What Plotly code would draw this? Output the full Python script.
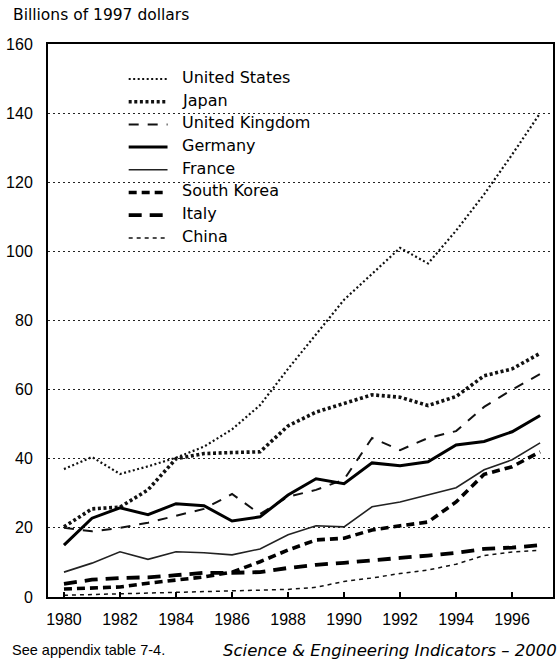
import plotly.graph_objects as go

# R&D spending, billions of constant 1997 dollars
years = list(range(1980, 1998))

united_states = [37.0, 40.5, 35.6, 37.8, 40.3, 43.5, 48.5, 55.5, 66.0, 76.0, 86.0, 93.5, 101.0, 96.5, 106.0, 116.5, 128.0, 140.0]
japan = [20.3, 25.5, 26.0, 31.0, 40.0, 41.5, 41.8, 42.0, 49.5, 53.5, 56.0, 58.5, 57.8, 55.4, 58.0, 64.0, 66.0, 70.5]
united_kingdom = [20.0, 19.0, 20.0, 21.5, 23.5, 25.5, 29.8, 24.0, 29.0, 31.0, 34.0, 46.0, 42.5, 46.0, 48.0, 55.0, 60.0, 64.5]
germany = [15.0, 22.8, 25.8, 23.8, 27.0, 26.4, 22.0, 23.2, 29.5, 34.2, 32.8, 38.8, 38.0, 39.1, 44.0, 45.0, 47.8, 52.5]
france = [7.2, 9.8, 13.1, 10.9, 13.1, 12.8, 12.2, 13.9, 18.0, 20.6, 20.3, 26.1, 27.5, 29.6, 31.6, 36.8, 39.7, 44.6]
south_korea = [2.3, 2.6, 2.9, 4.0, 5.0, 5.8, 7.2, 10.2, 13.6, 16.5, 17.0, 19.4, 20.6, 21.7, 27.5, 35.5, 37.7, 42.0]
italy = [3.8, 5.0, 5.5, 5.7, 6.3, 7.0, 7.0, 7.2, 8.4, 9.3, 9.9, 10.5, 11.3, 12.0, 12.8, 13.9, 14.3, 15.0]
china = [0.5, 0.7, 0.8, 1.0, 1.2, 1.4, 1.6, 1.8, 2.2, 2.8, 4.5, 5.5, 6.8, 7.8, 9.5, 12.0, 13.0, 13.5]

country_names = ["United States", "Japan", "United Kingdom", "Germany",
                 "France", "South Korea", "Italy", "China"]
x_tick_labels = ["1980", "1982", "1984", "1986", "1988", "1990", "1992", "1994", "1996"]
y_tick_values = [0, 20, 40, 60, 80, 100, 120, 140, 160]

series = [united_states, japan, united_kingdom, germany,
          france, south_korea, italy, china]

# line look for each country: (width, dash, colour)
styles = [
    (2.2, "2px,2.5px", "#111"),
    (3.6, "3px,2.6px", "#111"),
    (2.0, "10px,9px", "#111"),
    (3.0, "solid", "#000"),
    (1.6, "solid", "#222"),
    (3.6, "8px,5px", "#000"),
    (3.8, "13px,8px", "#000"),
    (1.5, "4px,4px", "#111"),
]

FONT = "Liberation Sans, Arial, sans-serif"
WIDE = "DejaVu Sans, Verdana, sans-serif"

fig = go.Figure()
for name, vals, (w, d, c) in zip(country_names, series, styles):
    fig.add_trace(go.Scatter(
        x=years, y=vals, mode="lines", name=name,
        line=dict(color=c, width=w, dash=d),
        showlegend=False,
    ))

# plot area in pixels
L, R, T, B = 48, 555, 44, 597
W, H = R - L, B - T

def px_x(p):
    return (p - L) / W

def px_y(p):
    return (B - p) / H

# in-plot key
shapes = []
annotations = []
for i, (name, (w, d, c)) in enumerate(zip(country_names, styles)):
    yl = 79 + 22.7 * i
    shapes.append(dict(
        type="line", xref="paper", yref="paper",
        x0=px_x(129), x1=px_x(168), y0=px_y(yl), y1=px_y(yl),
        line=dict(color=c, width=w, dash=d),
    ))
    annotations.append(dict(
        text=name, xref="paper", yref="paper",
        x=px_x(181), y=px_y(yl - 1.5), xanchor="left", yanchor="middle",
        showarrow=False, font=dict(family=WIDE, size=16, color="#000"),
    ))

annotations.append(dict(
    text="Billions of 1997 dollars", xref="paper", yref="paper",
    x=px_x(11), y=px_y(15), xanchor="left", yanchor="middle",
    showarrow=False, font=dict(family=WIDE, size=15.5, color="#000"),
))
annotations.append(dict(
    text="See appendix table 7-4.", xref="paper", yref="paper",
    x=px_x(10), y=px_y(650), xanchor="left", yanchor="middle",
    showarrow=False, font=dict(family=FONT, size=14.5, color="#000"),
))
annotations.append(dict(
    text="<i>Science &amp; Engineering Indicators – 2000</i>", xref="paper", yref="paper",
    x=px_x(561), y=px_y(650), xanchor="right", yanchor="middle",
    showarrow=False, font=dict(family=WIDE, size=16.5, color="#000"),
))

fig.update_layout(
    width=557, height=666,
    margin=dict(l=L, r=557 - R, t=T, b=666 - B, pad=0),
    paper_bgcolor="white", plot_bgcolor="white",
    shapes=shapes, annotations=annotations,
    showlegend=False,
    font=dict(family=FONT, size=16, color="#000"),
)

fig.update_xaxes(
    range=[1979.43, 1997.46],
    tickvals=[int(t) for t in x_tick_labels], ticktext=x_tick_labels,
    ticks="inside", ticklen=5, tickwidth=1.5, tickcolor="#000",
    showline=True, linecolor="#000", linewidth=2, mirror=True,
    showgrid=False, zeroline=False,
    tickfont=dict(family=FONT, size=16, color="#000"),
    ticklabelstandoff=7,
)
fig.update_yaxes(
    range=[0, 160],
    tickvals=y_tick_values, ticktext=[str(v) for v in y_tick_values],
    ticks="", showline=True, linecolor="#000", linewidth=2, mirror=True,
    showgrid=True, gridcolor="#222", gridwidth=1.2, griddash="1.5px,3.5px",
    zeroline=False,
    tickfont=dict(family=FONT, size=16, color="#000"),
    ticklabelstandoff=10,
)

fig.write_html("out.html")
